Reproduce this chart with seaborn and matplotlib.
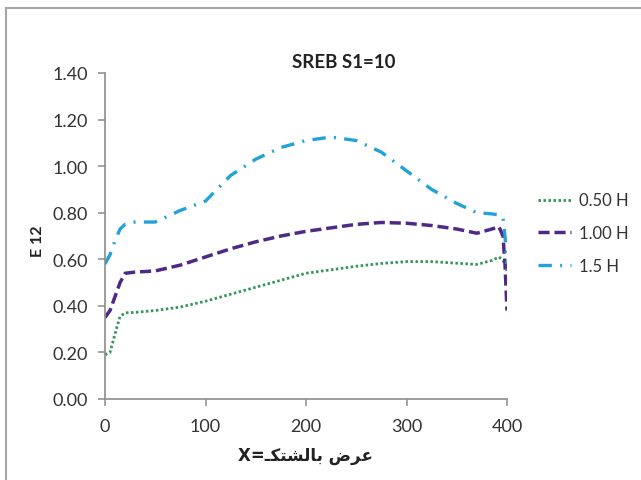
"""
SREB S1=10 : E 12 against width X for three depth ratios
"""

import matplotlib
matplotlib.use('Agg')
import matplotlib.pyplot as plt
import pandas as pd
import seaborn as sns
from matplotlib.patches import Rectangle

# data
x_pos = [0, 5, 10, 15, 20, 30, 50, 75, 100, 125, 150, 175, 200, 225, 250,
         275, 300, 325, 350, 370, 385, 392, 396, 398, 400]
e12_050 = [0.19, 0.20, 0.28, 0.355, 0.37, 0.372, 0.38, 0.395, 0.42, 0.45, 0.48,
           0.51, 0.54, 0.555, 0.57, 0.582, 0.59, 0.59, 0.583, 0.578, 0.595,
           0.61, 0.595, 0.58, 0.55]
e12_100 = [0.35, 0.38, 0.44, 0.50, 0.54, 0.545, 0.55, 0.575, 0.61, 0.645, 0.675,
           0.70, 0.72, 0.735, 0.75, 0.758, 0.755, 0.745, 0.73, 0.712, 0.73,
           0.74, 0.70, 0.58, 0.38]
e12_150 = [0.58, 0.62, 0.68, 0.73, 0.75, 0.76, 0.76, 0.81, 0.85, 0.96, 1.03,
           1.08, 1.11, 1.125, 1.11, 1.06, 0.98, 0.90, 0.84, 0.80, 0.795,
           0.79, 0.78, 0.70, 0.58]
series_names = ['0.50 H', '1.00 H', '1.5 H']
x_ticks = [0, 100, 200, 300, 400]
y_ticks = [0.0, 0.2, 0.4, 0.6, 0.8, 1.0, 1.2, 1.4]

title = 'SREB S1=10'
y_label = 'E 12'
# "عرض بالشتكـ=X" written out in visual order with arabic presentation forms
x_label = 'X=\u0640\uFEDC\uFE98\uFEB8\uFEDF\uFE8E\uFE91 \uFEBD\uFEAE\uFECB'

sns.set_theme(style='white')
plt.rcParams['font.family'] = ['Lato', 'DejaVu Sans']

df = pd.DataFrame({'x': x_pos, series_names[0]: e12_050,
                   series_names[1]: e12_100, series_names[2]: e12_150})

fig = plt.figure(figsize=(6.41, 4.81), dpi=100)
ax = fig.add_axes([105 / 641, 81 / 481, 402 / 641, 326 / 481])

styles = [
    dict(color='#33955a', linestyle=(0, (0.9, 0.9)), linewidth=2.0),
    dict(color='#4e2a84', linestyle=(0, (3.2, 1.4)), linewidth=2.5),
    dict(color='#22a3d8', linestyle=(0, (4, 2.5, 0.6, 2.5)), linewidth=2.4),
]
for name, st in zip(series_names, styles):
    sns.lineplot(data=df, x='x', y=name, ax=ax, label=name, **st)

ax.set_xlim(0, 400)
ax.set_ylim(0, 1.4)
ax.set_xticks(x_ticks)
ax.set_yticks(y_ticks)
ax.set_yticklabels([f'{v:.2f}' for v in y_ticks])
ax.set_xlabel('')
ax.set_ylabel('')

for side in ['top', 'right']:
    ax.spines[side].set_visible(False)
for side in ['left', 'bottom']:
    ax.spines[side].set_color('#8c8c8c')
    ax.spines[side].set_linewidth(1.2)
ax.tick_params(axis='both', which='both', direction='out', length=5, width=1.1,
               color='#8c8c8c', labelsize=13, labelcolor='#333333')
ax.tick_params(axis='y', pad=7)
ax.tick_params(axis='x', pad=9)
ax.tick_params(left=True, bottom=True)

leg = ax.legend(loc='center left', bbox_to_anchor=(526 / 641, 247 / 481),
                bbox_transform=fig.transFigure, frameon=False, fontsize=12,
                handlelength=2.0, handletextpad=0.45, labelspacing=1.0,
                borderpad=0.2)
for t in leg.get_texts():
    t.set_color('#333333')

fig.text(344 / 641, 1 - 63 / 481, title, ha='center', va='center',
         fontsize=13.5, fontweight='bold', color='#222222')
fig.text(37.5 / 641, 1 - 241 / 481, y_label, ha='center', va='center',
         rotation=90, fontsize=11.5, fontweight='bold', color='#222222')
fig.text(305 / 641, 1 - 456 / 481, x_label, ha='center', va='center',
         fontsize=12, fontweight='bold', color='#222222', family=['DejaVu Sans'])

# chart area frame
fig.patches.append(Rectangle((6 / 641, -0.05), 1.0, 1 - 9 / 481 + 0.05,
                             transform=fig.transFigure, fill=False,
                             edgecolor='#a6a6a6', linewidth=1.5))

fig.savefig('out.png', dpi=100)
